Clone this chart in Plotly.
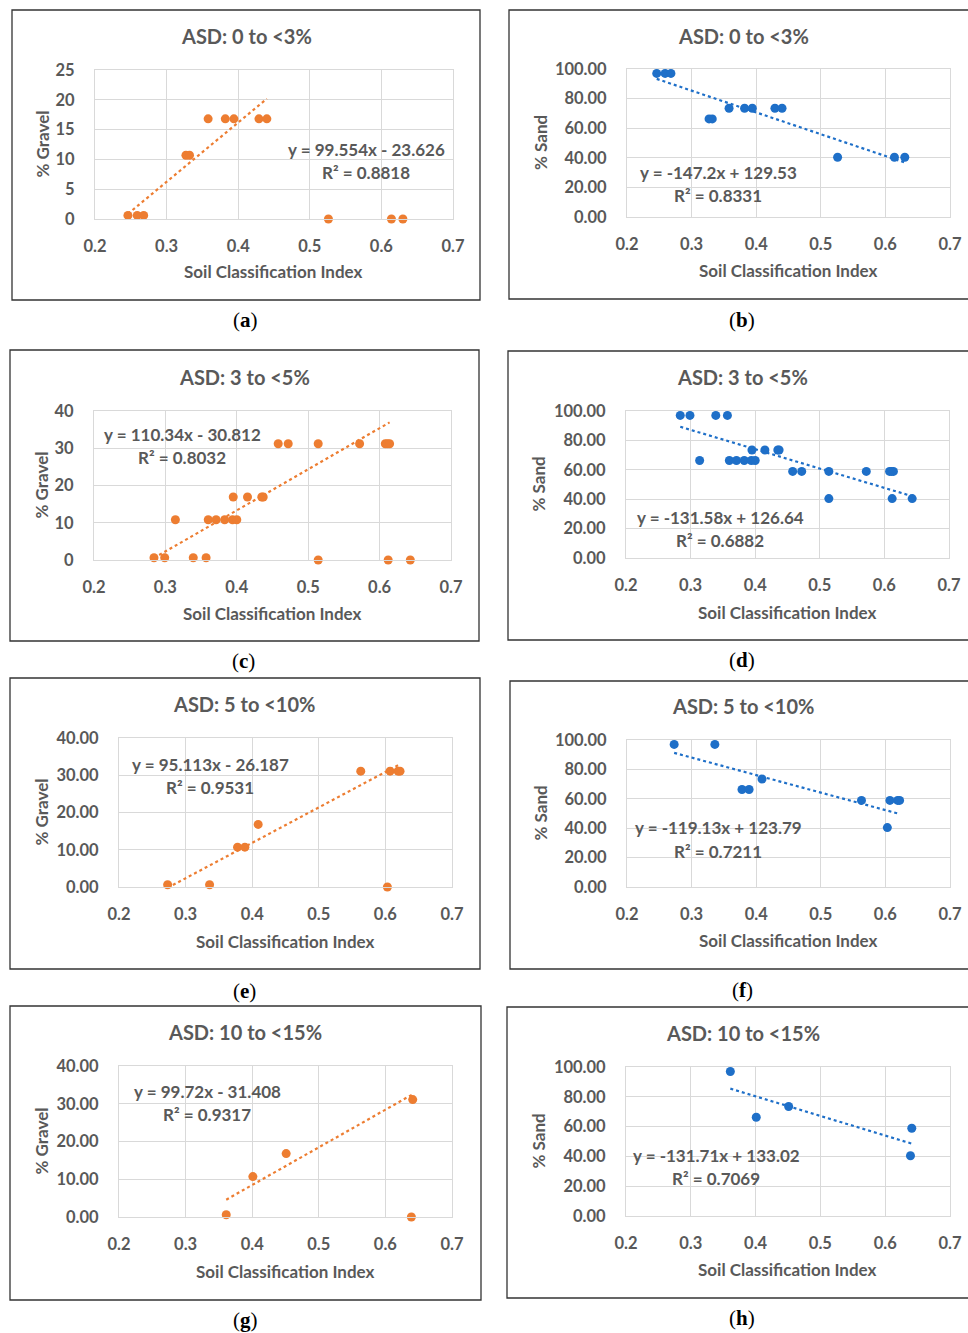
import plotly.graph_objects as go

# ---------------- data ----------------
sci_ab = [0.246, 0.259, 0.268, 0.327, 0.332, 0.358, 0.382, 0.394, 0.429, 0.440, 0.526, 0.614, 0.630]
gravel_a = [0.6, 0.6, 0.6, 10.7, 10.7, 16.8, 16.8, 16.8, 16.8, 16.8, 0, 0, 0]
sand_b = [97, 97, 97, 66.3, 66.3, 73.5, 73.5, 73.5, 73.5, 73.5, 40.4, 40.4, 40.4]

sci_cd = [0.284, 0.299, 0.339, 0.357, 0.314, 0.360, 0.371, 0.383, 0.394, 0.400,
          0.395, 0.415, 0.435, 0.437, 0.458, 0.472, 0.514, 0.572, 0.608, 0.611, 0.614,
          0.514, 0.612, 0.643]
gravel_c = [0.6, 0.6, 0.6, 0.6, 10.8, 10.8, 10.8, 10.8, 10.8, 10.8,
            16.9, 16.9, 16.9, 16.9, 31.2, 31.2, 31.2, 31.2, 31.2, 31.2, 31.2,
            0, 0, 0]
sand_d = [97, 97, 97, 97, 66.3, 66.3, 66.3, 66.3, 66.3, 66.3,
          73.5, 73.5, 73.5, 73.5, 58.9, 58.9, 58.9, 58.9, 58.9, 58.9, 58.9,
          40.4, 40.4, 40.4]

sci_ef = [0.273, 0.336, 0.378, 0.389, 0.409, 0.563, 0.607, 0.619, 0.622, 0.603]
gravel_e = [0.6, 0.6, 10.7, 10.7, 16.8, 31.1, 31.1, 31.1, 31.1, 0]
sand_f = [97, 97, 66.3, 66.3, 73.5, 58.9, 58.9, 58.9, 58.9, 40.4]

sci_gh = [0.361, 0.401, 0.451, 0.641, 0.639]
gravel_g = [0.6, 10.7, 16.8, 31.1, 0]
sand_h = [97, 66.3, 73.5, 58.9, 40.4]

titles = ["ASD: 0 to <3%", "ASD: 0 to <3%", "ASD: 3 to <5%", "ASD: 3 to <5%",
          "ASD: 5 to <10%", "ASD: 5 to <10%", "ASD: 10 to <15%", "ASD: 10 to <15%"]
slopes = [99.554, -147.2, 110.34, -131.58, 95.113, -119.13, 99.72, -131.71]
intercepts = [-23.626, 129.53, -30.812, 126.64, -26.187, 123.79, -31.408, 133.02]
eq_text = ["y = 99.554x - 23.626", "y = -147.2x + 129.53", "y = 110.34x - 30.812",
           "y = -131.58x + 126.64", "y = 95.113x - 26.187", "y = -119.13x + 123.79",
           "y = 99.72x - 31.408", "y = -131.71x + 133.02"]
r2_text = ["R² = 0.8818", "R² = 0.8331", "R² = 0.8032", "R² = 0.6882",
           "R² = 0.9531", "R² = 0.7211", "R² = 0.9317", "R² = 0.7069"]
panel_letters = ["a", "b", "c", "d", "e", "f", "g", "h"]
x_ticks = [0.2, 0.3, 0.4, 0.5, 0.6, 0.7]

xs = [sci_ab, sci_ab, sci_cd, sci_cd, sci_ef, sci_ef, sci_gh, sci_gh]
ys = [gravel_a, sand_b, gravel_c, sand_d, gravel_e, sand_f, gravel_g, sand_h]

# ---------------- layout geometry (pixels) ----------------
W, H = 968, 1333
ORANGE = "#ED7D31"
BLUE = "#1E6FC8"
GRAY = "#595959"
GRID = "#D9D9D9"
FONT = "Lato"

panels = [
    dict(px=(95, 453), py=(70, 219), yr=25, dt=5, fmt="d", box=(12, 480, 10, 300),
         title=(246, 36), yt=42, xt=(273, 272), eq=(366, 149), lab=(245, 320)),
    dict(px=(627, 950), py=(69, 217), yr=100, dt=20, fmt=".2f", box=(509, 980, 10, 299),
         title=(743, 36), yt=540, xt=(788, 271), eq=(718, 172), lab=(742, 320)),
    dict(px=(94, 451), py=(411, 560), yr=40, dt=10, fmt="d", box=(10, 479, 350, 641),
         title=(244, 377), yt=41, xt=(272, 613), eq=(182, 434), lab=(243, 661)),
    dict(px=(626, 949), py=(411, 558), yr=100, dt=20, fmt=".2f", box=(508, 980, 351, 640),
         title=(742, 377), yt=538, xt=(787, 612), eq=(720, 517), lab=(742, 660)),
    dict(px=(119, 452), py=(738, 887), yr=40, dt=10, fmt=".2f", box=(10, 480, 678, 969),
         title=(244, 704), yt=41, xt=(285, 942), eq=(210, 764), lab=(244, 991)),
    dict(px=(627, 950), py=(740, 887), yr=100, dt=20, fmt=".2f", box=(510, 980, 681, 969),
         title=(743, 706), yt=540, xt=(788, 941), eq=(718, 828), lab=(742, 990)),
    dict(px=(119, 452), py=(1066, 1217), yr=40, dt=10, fmt=".2f", box=(10, 481, 1006, 1300),
         title=(245, 1032), yt=41, xt=(285, 1271), eq=(207, 1091), lab=(245, 1320)),
    dict(px=(626, 950), py=(1067, 1216), yr=100, dt=20, fmt=".2f", box=(507, 980, 1007, 1298),
         title=(743, 1033), yt=538, xt=(787, 1269), eq=(716, 1155), lab=(742, 1318)),
]


def fx(p):
    return p / W


def fy(p):
    return 1 - p / H


fig = go.Figure()
shapes = []
annotations = []
layout_axes = {}

for i, p in enumerate(panels):
    n = i + 1
    sfx = "" if n == 1 else str(n)
    color = ORANGE if i % 2 == 0 else BLUE
    ylabel = "% Gravel" if i % 2 == 0 else "% Sand"
    xv, yv = xs[i], ys[i]

    fig.add_trace(go.Scatter(x=xv, y=yv, mode="markers", xaxis="x" + sfx, yaxis="y" + sfx,
                             marker=dict(color=color, size=9), showlegend=False,
                             cliponaxis=False))
    # linear trendline over fitted points (gravel fits exclude zero-gravel points)
    fit_x = [a for a, b in zip(xv, yv) if (i % 2 == 1 or b > 0)]
    x0, x1 = min(fit_x), max(fit_x)
    fig.add_trace(go.Scatter(x=[x0, x1], y=[slopes[i] * x0 + intercepts[i], slopes[i] * x1 + intercepts[i]],
                             mode="lines", xaxis="x" + sfx, yaxis="y" + sfx,
                             line=dict(color=color, width=2.2, dash="dot"), showlegend=False))

    tickfont = dict(family=FONT, size=16.5, color=GRAY, weight="bold")
    layout_axes["xaxis" + sfx] = dict(
        domain=[fx(p["px"][0]), fx(p["px"][1])], anchor="y" + sfx, range=[0.2, 0.7],
        tickvals=x_ticks, ticktext=[f"{t:.1f}" for t in x_ticks], showgrid=True, gridcolor=GRID,
        showline=True, linecolor=GRID, mirror=True, zeroline=False, ticks="",
        ticklabelstandoff=12, tickfont=tickfont, fixedrange=True, automargin=False)
    ticks_y = list(range(0, p["yr"] + 1, p["dt"]))
    layout_axes["yaxis" + sfx] = dict(
        domain=[fy(p["py"][1]), fy(p["py"][0])], anchor="x" + sfx, range=[0, p["yr"]],
        tickvals=ticks_y,
        ticktext=[(f"{t:d}" if p["fmt"] == "d" else f"{t:.2f}") for t in ticks_y],
        showgrid=True, gridcolor=GRID, showline=True, linecolor=GRID, mirror=True,
        zeroline=False, ticks="", ticklabelstandoff=16, tickfont=tickfont, fixedrange=True,
        automargin=False)

    bx0, bx1, by0, by1 = p["box"]
    shapes.append(dict(type="rect", xref="paper", yref="paper", x0=fx(bx0), x1=fx(bx1),
                       y0=fy(by1), y1=fy(by0), line=dict(color="#333333", width=1.3),
                       fillcolor="rgba(0,0,0,0)", layer="below"))

    def ann(text, x, y, size, **kw):
        d = dict(text=text, x=fx(x), y=fy(y), xref="paper", yref="paper", showarrow=False,
                 xanchor="center", yanchor="middle",
                 font=dict(family=kw.pop("family", FONT), size=size, color=kw.pop("color", GRAY),
                           weight=kw.pop("weight", "bold")))
        d.update(kw)
        annotations.append(d)

    ann(titles[i], p["title"][0], p["title"][1], 20)
    ann(ylabel, p["yt"], (p["py"][0] + p["py"][1]) / 2, 17, textangle=-90)
    ann("Soil Classification Index", p["xt"][0], p["xt"][1], 17)
    ann(eq_text[i], p["eq"][0], p["eq"][1], 17)
    ann(r2_text[i], p["eq"][0], p["eq"][1] + 23.5, 17)
    ann("(<b>" + panel_letters[i] + "</b>)", p["lab"][0], p["lab"][1], 21,
        family="Liberation Serif", color="#000000", weight="normal")

fig.update_layout(
    width=W, height=H, margin=dict(l=0, r=0, t=0, b=0, autoexpand=False),
    paper_bgcolor="white", plot_bgcolor="white",
    shapes=shapes, annotations=annotations, showlegend=False,
    **layout_axes,
)

fig.write_html("out.html",
               post_script="document.body.style.margin='0';document.body.style.overflow='hidden';")
